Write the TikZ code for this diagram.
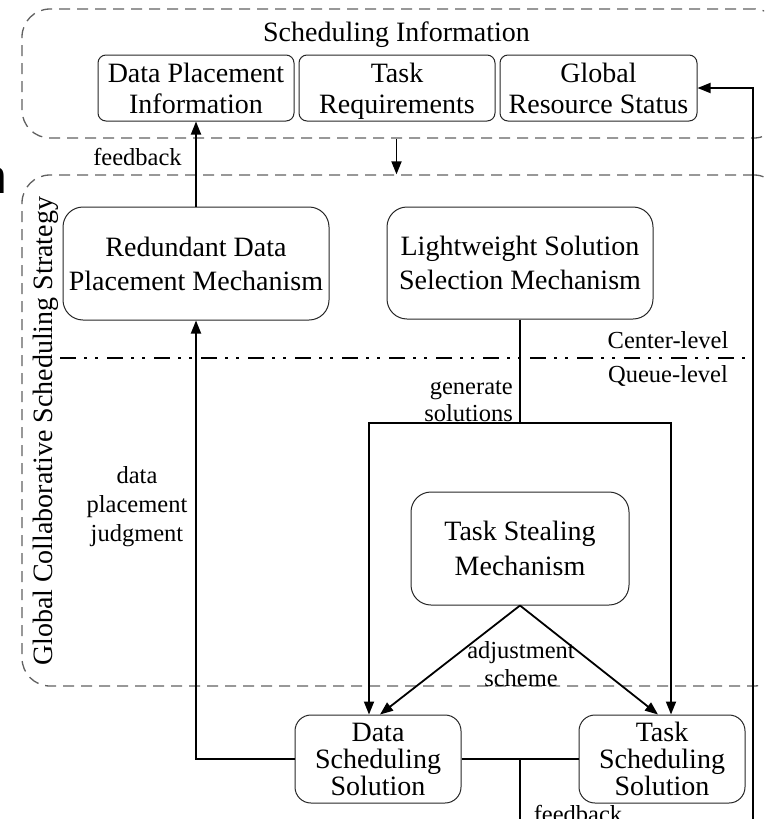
\documentclass[tikz,border=0pt]{standalone}
\usepackage{fontspec}
\setmainfont{Liberation Serif}
\newfontfamily\bigsans{Liberation Sans}
\usetikzlibrary{arrows.meta}
\begin{document}
\begin{tikzpicture}[x=1pt,y=-1pt,
  dbox/.style={draw=black!62, line width=1.3pt, dash pattern=on 11pt off 7pt, rounded corners=28pt, minimum width=760pt, inner sep=0pt},
  info/.style={draw=black!85, line width=1pt, rounded corners=8pt, inner sep=0pt, minimum width=196pt, minimum height=66pt, align=center, font=\fontsize{28pt}{31pt}\selectfont},
  mech/.style={draw=black!85, line width=1pt, rounded corners=20pt, inner sep=0pt, align=center, font=\fontsize{28pt}{34pt}\selectfont},
  sol/.style={draw=black!85, line width=1pt, rounded corners=16pt, inner sep=0pt, align=center, minimum width=166pt, minimum height=88pt, font=\fontsize{28pt}{27pt}\selectfont},
  lbl/.style={inner sep=0pt, align=center, font=\fontsize{24.5pt}{28pt}\selectfont},
  ln/.style={line width=1.8pt},
  arr/.style={line width=1.8pt, -{Triangle[length=13pt,width=10pt]}},
  level/.style={line width=2pt, dash pattern=on 16pt off 8pt on 3pt off 8pt on 3pt off 9pt}
]
\clip (0,0) rectangle (764,819);
% dashed containers
\node[dbox, minimum height=129pt] (topbox) at (402,73.5) {};
\node[dbox, minimum height=511pt] (midbox) at (402,430.5) {};
\node[inner sep=0pt, anchor=base, font=\fontsize{28pt}{31pt}\selectfont] (title) at (396.5,41) {Scheduling Information};
\node[inner sep=0pt, anchor=base, rotate=90, font=\fontsize{28pt}{31pt}\selectfont] (gcs) at (52,431.5) {Global Collaborative Scheduling Strategy};
% partial glyph at left edge
\node[inner sep=0pt, anchor=base east, font=\bigsans\fontsize{48pt}{48pt}\selectfont] (frag) at (7,193) {n};
% info boxes
\node[info] (dpi) at (196,88) {Data Placement\\Information};
\node[info] (tr) at (397,88) {Task\\Re\smash{q}uirements};
\node[info, minimum width=197pt] (grs) at (598.5,88) {Global\\Resource Status};
% mechanisms
\node[mech, minimum width=266pt, minimum height=113pt] (rdpm) at (196,263.5) {Redundant Data\\Placement Mechanism};
\node[mech, minimum width=266pt, minimum height=112pt] (lssm) at (520,263) {Lightweight Solution\\Selection Mechanism};
\node[mech, minimum width=218pt, minimum height=113pt, font=\fontsize{28pt}{35pt}\selectfont] (tsm) at (520,548.5) {Task Stealing\\Mechanism};
% solutions
\node[sol] (dss) at (378,759) {Data\\Scheduling\\Solution};
\node[sol] (tss) at (662,759) {Task\\Scheduling\\Solution};
% level separator
\coordinate (lvL) at (60,358);
\coordinate (lvR) at (752,358);
\draw[level] (lvL) -- (lvR);
\node[lbl, anchor=base] (cl) at (668,348) {Center-level};
\node[lbl, anchor=base] (ql) at (668,382) {Queue-level};
% connectors
\draw[arr] (rdpm.north) -- (dpi.south);
\node[lbl, anchor=base] (fb1) at (137.5,165) {feedback};
\draw[arr] (title.base |- topbox.south) -- (title.base |- midbox.north);
\coordinate (jn) at (520,423);
\coordinate (jl) at (369,423);
\coordinate (jr) at (671,423);
\draw[ln] (lssm.south) -- (jn);
\draw[arr] (jn) -- (jl) -- (jl |- dss.north);
\draw[arr] (jn) -- (jr) -- (jr |- tss.north);
\node[lbl, anchor=east, align=right, font=\fontsize{24.5pt}{27pt}\selectfont] (gen) at (513,401) {generate\\solutions};
\draw[arr] (tsm.south) -- ([xshift=2pt]dss.north);
\draw[arr] (tsm.south) -- ([xshift=-4pt]tss.north);
\node[lbl] (adj) at (521,664) {adjustment\\scheme};
\coordinate (dpj) at (196,759);
\draw[arr] (dss.west) -- (dpj) -- (rdpm.south);
\node[lbl, font=\fontsize{24.5pt}{29pt}\selectfont] (dpjl) at (137,507) {data\\placement\\judgment};
\coordinate (bm) at (520,759);
\coordinate (bd) at (520,850);
\coordinate (br) at (753,850);
\coordinate (bu) at (753,88);
\draw[ln] (dss.east) -- (tss.west);
\draw[arr] (bm) -- (bd) -- (br) -- (bu) -- (grs.east);
\node[lbl, anchor=base] (fb2) at (578,822) {feedback};
\end{tikzpicture}
\end{document}
